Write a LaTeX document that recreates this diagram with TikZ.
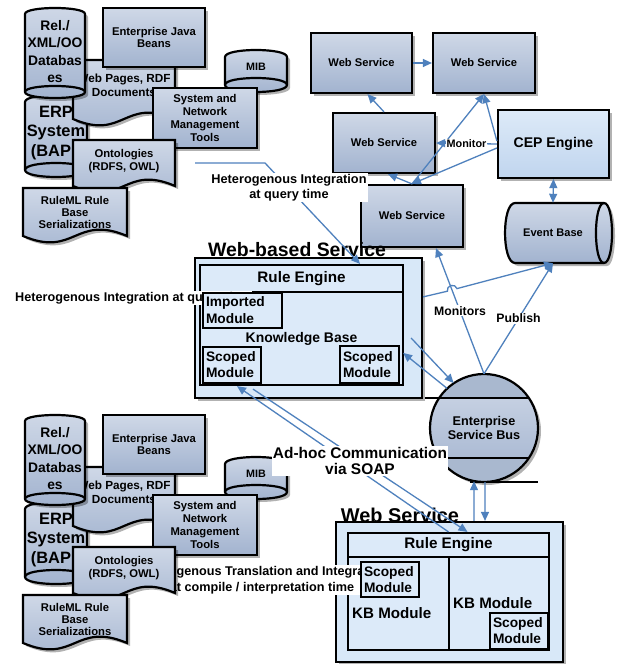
\documentclass[tikz,border=0pt]{standalone}
\usepackage{fontspec}
\setmainfont{Liberation Sans}
\usetikzlibrary{arrows.meta,shadows,calc}
\pgfdeclarelayer{bg}
\pgfsetlayers{bg,main}
\definecolor{cArrow}{HTML}{4F81BD}
\definecolor{cT}{HTML}{CFD8E7}
\definecolor{cB}{HTML}{A2B3CF}
\definecolor{cCepT}{HTML}{DDEAF8}
\definecolor{cCepB}{HTML}{C0D5EE}
\definecolor{cOut}{HTML}{D8E8F8}
\definecolor{cIn}{HTML}{DCEAF9}
\definecolor{cCap}{HTML}{A9B8CF}
\newcommand\fz[2]{\fontsize{#1}{#2}\selectfont\bfseries}
\newcommand\rbox[7]{\node[#1, minimum width={(#5-#3)*1bp}, minimum height={(#6-#4)*1bp}] (#2) at ({(#3+#5)/2},{(#4+#6)/2}) {#7};}
\newcommand\vcyl[9]{%
 \path[shp] (#2,{#3+#6}) .. controls (#2,{#3-#6/3}) and (#4,{#3-#6/3}) .. (#4,{#3+#6}) -- (#4,{#5-#6}) .. controls (#4,{#5+#6/3}) and (#2,{#5+#6/3}) .. (#2,{#5-#6}) -- cycle;
 \draw[bord] (#2,{#5-#6}) .. controls (#2,{#5-7*#6/3}) and (#4,{#5-7*#6/3}) .. (#4,{#5-#6});
 \node[txt, font=#9, minimum width={(#4-#2)*1bp}] (#1) at ({(#2+#4)/2},#7) {#8};}
\newcommand\docshape[8]{%
 \path[shp] (#2,#3) -- (#4,#3) -- (#4,#5) .. controls ({(#2+#4)/2},{#5-22}) and ({(#2+#4)/2},{#5+22}) .. (#2,#5) -- cycle;
 \node[txt, font=#8, minimum width={(#4-#2)*1bp}] (#1) at ({(#2+#4)/2},#6) {#7};}
\newcommand\cluster[1]{%
 \vcyl{#1erp}{25}{95}{87}{177}{7}{133}{ERP\\System\\(BAPI)}{\fz{16.5}{20}}
 \docshape{#1web}{73}{60}{175}{119}{85}{Web Pages, RDF\\Documents}{\fz{11.8}{14}}
 \vcyl{#1rel}{25}{8}{85}{98}{6}{51.5}{Rel./\\XML/OO\\Databas\\es}{\fz{13.9}{17.3}}
 \rbox{shp,txt,font=\fz{11.3}{12.5}}{#1ejb}{103}{8}{205}{67}{Enterprise Java\\Beans}
 \vcyl{#1mib}{225}{50}{287}{92}{7}{67}{MIB}{\fz{10.8}{13}}
 \rbox{shp,txt,font=\fz{11.3}{13.3}}{#1sys}{153}{88}{257}{148}{System and\\Network\\Management\\Tools}
 \docshape{#1onto}{73}{140}{175}{186}{161}{Ontologies\\(RDFS, OWL)}{\fz{11.3}{12.5}}
 \docshape{#1rml}{23}{188}{127}{236}{212.5}{RuleML Rule\\Base\\Serializations}{\fz{11.3}{12.5}}
}
\begin{document}
\begin{tikzpicture}[x=1bp, y=-1bp,
 bord/.style={draw=black, line width=2.2bp},
 sh/.style={drop shadow={shadow xshift=3bp, shadow yshift=-3bp, opacity=0.3, fill=black}},
 shp/.style={bord, top color=cT, bottom color=cB, sh},
 txt/.style={inner sep=0pt, align=center},
 wsb/.style={shp, txt, font=\fz{11.2}{13}},
 cepb/.style={bord, txt, top color=cCepT, bottom color=cCepB, sh, font=\fz{14.1}{16}},
 obox/.style={bord, fill=cOut, inner sep=0pt, sh},
 ibox/.style={bord, fill=cIn, txt},
 lbl/.style={fill=white, inner sep=1bp, align=center},
 conn/.style={draw=cArrow, line width=1.3bp, -{Triangle[length=9bp,width=8bp]}},
 dconn/.style={draw=cArrow, line width=1.3bp, {Triangle[length=9bp,width=8bp]}-{Triangle[length=9bp,width=8bp]}},
]
\useasboundingbox[fill=white] (0,0) rectangle (620,664);

% top-left cluster
\cluster{t}

% top-right services
\rbox{wsb}{ws1}{311}{33}{412}{93}{Web Service}
\rbox{wsb}{ws2}{433}{33}{535}{93}{Web Service}
\rbox{wsb}{ws3}{333}{113}{435}{173}{Web Service}
\rbox{wsb}{ws4}{361}{185}{463}{247}{Web Service}
\rbox{cepb}{cep}{498}{110}{609}{178}{CEP Engine}
\path[shp] (515,203) -- (604,203) .. controls (614.7,203) and (614.7,263) .. (604,263) -- (515,263) .. controls (501.7,263) and (501.7,203) .. (515,203) -- cycle;
\draw[bord] (604,203) .. controls (593.3,203) and (593.3,263) .. (604,263);
\node[txt, font=\fz{11.1}{13}, minimum width=96bp, minimum height=60bp] (eb) at (553,233) {Event Base};

\draw[conn] (ws1.east) -- (ws2.west);
\draw[conn] (ws3.north) -- ($(ws1.south)+(6,0)$);
\draw[conn] (ws4.north) -- ($(ws3.south)+(4,0)$);
\draw[conn] (ws4.north) -- (ws2.south);
\draw[conn] ($(cep.west)+(0,-3)$) -- (ws2.south);
\draw[conn] ($(cep.west)+(0,4)$) -- (ws4.north);
\draw[conn] (cep.west) -- node[lbl, font=\fz{10.9}{12}] (mon) {Monitor} (ws3.east);
\draw[dconn] (cep.south) -- (eb.north);

% Web-based Service
\node[txt, font=\fz{19.5}{22}] (wbst) at (297,250) {Web-based Service};
\rbox{obox}{wbs}{195}{258}{422}{398}{}
\rbox{ibox, font=\fz{15.3}{17}}{re}{200}{265}{403}{292}{Rule Engine}
\rbox{ibox, font=\fz{14}{16}}{kb}{200}{292}{403}{385}{Knowledge Base}
\node[lbl, anchor=west, font=\fz{12.7}{15}] (qlbl) at (14,298) {Heterogenous Integration at query time};
\rbox{ibox, text width=73bp, align=left, font=\fz{13.8}{17}}{imp}{203}{293}{282}{328}{Imported\\Module}
\rbox{ibox, text width=52bp, align=left, font=\fz{13.8}{16}}{sL}{203}{347}{261}{383}{Scoped\\Module}
\rbox{ibox, text width=53bp, align=left, font=\fz{13.8}{16}}{sR}{340}{346}{399}{383}{Scoped\\Module}

% Enterprise Service Bus
\fill[top color=cT, bottom color=cB, sh] (484,428) circle[radius=54];
\begin{scope}
 \clip (484,428) circle[radius=54];
 \fill[cCap] (420,370) rectangle (550,398);
 \fill[cCap] (420,458) rectangle (550,490);
\end{scope}
\draw[bord] (484,428) circle[radius=54];
\draw[bord] (425,398) -- (529,398);
\draw[bord] (439,458) -- (529,458);
\draw[bord] (470,482) -- (538,482);
\node[circle, minimum size=108bp, txt, font=\fz{12.7}{15}] (esb) at (484,428) {Enterprise\\Service Bus};

% lower Web Service
\node[txt, font=\fz{20}{22}] (lwst) at (400,515) {Web Service};
\rbox{obox}{lws}{336}{522}{563}{662}{}
\rbox{ibox, font=\fz{15.3}{17}}{lre}{348}{533}{549}{557}{Rule Engine}
\rbox{ibox}{kbl}{348}{557}{449}{650}{}
\rbox{ibox}{kbr}{449}{557}{549}{650}{}
\node[txt, anchor=west, font=\fz{15.2}{17}] (kblt) at (352,613) {KB Module};
\node[txt, anchor=west, font=\fz{15.2}{17}] (kbrt) at (453,603) {KB Module};
\node[lbl, font=\fz{12.7}{16}] (trans) at (262,580) {Heterogenous Translation and Integration\\at compile / interpretation time};
\rbox{ibox, text width=52bp, align=left, font=\fz{13.8}{16}}{lsL}{361}{562}{419}{597}{Scoped\\Module}
\rbox{ibox, text width=52bp, align=left, font=\fz{13.8}{16}}{lsR}{490}{613}{548}{649}{Scoped\\Module}

% lower-left cluster
\begin{scope}[shift={(0,407)}]
\cluster{b}
\end{scope}

% connectors
\begin{pgfonlayer}{bg}
\draw[conn] ($(tonto.south)+(10,0)$) |- ($(wbs.west)+(0,10)$);
\end{pgfonlayer}
\coordinate (qs) at (195,163);
\coordinate (qk) at (265,163);
\draw[conn] (qs) -- (qk) -- ($(re.north)+(58.5,0)$);
\node[lbl, font=\fz{12.8}{15}] (qmid) at (289,187.5) {Heterogenous Integration\\at query time};

\coordinate (wbsR) at ($(wbs.north east)+(0,40)$);
\draw[conn] (wbsR) -- (447.4,291.2) .. controls (445.8,285.4) and (455.4,282.8) .. (457.0,288.6) -- (eb.south);
\draw[conn] (esb.north) -- node[lbl, font=\fz{12.3}{14}] (monl) {Monitors} ($(ws4.south)+(24,0)$);
\draw[conn] (esb.north) -- node[lbl, font=\fz{12.3}{14}] (publ) {Publish} (eb.south);
\draw[conn] ($(wbs.east)+(-12,10)$) -- (esb.124);
\draw[conn] (esb.133) -- ($(sR.north east)+(3,8)$);

\draw[conn] (lre.north) -- ($(sL.south)+(5,2)$);
\draw[conn] ($(sL.south)+(21,5)$) -- ($(lre.north)+(19,0)$);
\node[lbl, font=\fz{15.5}{17}] (adhoc) at (360,461) {Ad-hoc Communication\\via SOAP};

\draw[conn] ($(lws.north)+(24.5,0)$) -- ($(esb.south)+(-10,-1)$);
\draw[conn] ($(esb.south)+(1,0)$) -- ($(lws.north)+(35.5,0)$);
\end{tikzpicture}
\end{document}
